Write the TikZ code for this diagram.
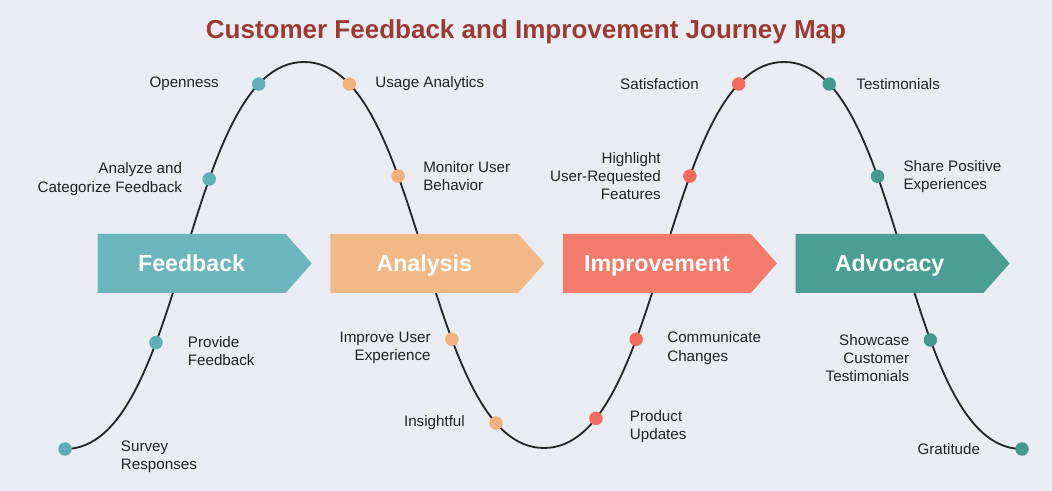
\documentclass[tikz,border=0pt]{standalone}
\usepackage{fontspec}
\setmainfont{Liberation Sans}
\usetikzlibrary{positioning,shapes.symbols}

\definecolor{bgcol}{HTML}{E9EDF3}
\definecolor{titlecol}{HTML}{9A3B33}
\definecolor{txtcol}{HTML}{222222}
\definecolor{fbkcol}{HTML}{6BB5BC}
\definecolor{anacol}{HTML}{F2B885}
\definecolor{impcol}{HTML}{F27B6C}
\definecolor{advcol}{HTML}{4A9E94}
\definecolor{fbkdot}{HTML}{5FAFB8}
\definecolor{anadot}{HTML}{F0B27A}
\definecolor{impdot}{HTML}{EE6B5E}
\definecolor{advdot}{HTML}{44998F}

\begin{document}
\begin{tikzpicture}[
		wave/.style={line width=1.3pt, line cap=round, black!85},
		dot/.style={circle, draw=none, inner sep=0pt,
			minimum size=9.6pt},
		lbl/.style={inner sep=0pt, text=txtcol,
			font=\fontsize{10.8}{12.9}\selectfont},
		stage/.style={signal, signal to=east, signal from=nowhere,
			signal pointer angle=97, inner sep=0pt,
			minimum width=5.35cm, minimum height=1.475cm,
			text height=11.5pt, text depth=0pt,
			text=white, font=\fontsize{16.5}{18}\selectfont\bfseries},
		]
		\fill[bgcol] (0,0) rectangle (26.3,12.275);
		\useasboundingbox (0,0) rectangle (26.3,12.275);
		
		% titolo
		\node[text=titlecol, font=\fontsize{18.5}{22}\selectfont\bfseries]
		(title) at (13.15,11.47) {Customer Feedback and Improvement Journey Map};
		
		% creste e valli dell'onda
		\coordinate (c0) at (1.625,1.05);
		\coordinate (c1) at (7.6,10.725);
		\coordinate (c2) at (13.6,1.075);
		\coordinate (c3) at (19.6,10.725);
		\coordinate (c4) at (25.55,1.05);
		
		% onda con i punti
		\draw[wave] (c0) .. controls +(3,0) and +(-3,0) .. (c1)
		node[dot, fill=fbkdot, pos=0]     (d01) {}
		node[dot, fill=fbkdot, pos=0.345] (d02) {}
		node[dot, fill=fbkdot, pos=0.635] (d03) {}
		node[dot, fill=fbkdot, pos=0.855] (d04) {}
		.. controls +(3,0) and +(-3,0) .. (c2)
		node[dot, fill=anadot, pos=0.145] (d05) {}
		node[dot, fill=anadot, pos=0.36]  (d06) {}
		node[dot, fill=anadot, pos=0.65]  (d07) {}
		node[dot, fill=anadot, pos=0.845] (d08) {}
		.. controls +(3,0) and +(-3,0) .. (c3)
		node[dot, fill=impdot, pos=0.17]  (d09) {}
		node[dot, fill=impdot, pos=0.35]  (d10) {}
		node[dot, fill=impdot, pos=0.64]  (d11) {}
		node[dot, fill=impdot, pos=0.855] (d12) {}
		.. controls +(3,0) and +(-3,0) .. (c4)
		node[dot, fill=advdot, pos=0.145] (d13) {}
		node[dot, fill=advdot, pos=0.36]  (d14) {}
		node[dot, fill=advdot, pos=0.65]  (d15) {}
		node[dot, fill=advdot, pos=1]     (d16) {};
		
		% fasi
		\node[stage, fill=fbkcol] (feedback) at (4.79,5.69) {Feedback};
		\node[stage, fill=anacol, right=0.45cm of feedback] (analysis) {Analysis};
		\node[stage, fill=impcol, right=0.45cm of analysis] (improvement) {Improvement};
		\node[stage, fill=advcol, right=0.45cm of improvement] (advocacy) {Advocacy};
		
		% etichette
		\node[lbl, right=1.2cm of d01, yshift=-0.2cm, align=left] (l01) {Survey\\Responses};
		\node[lbl, right=0.6cm of d02, yshift=-0.22cm, align=left] (l02) {Provide\\Feedback};
		\node[lbl, left=0.48cm of d03, align=right] (l03) {Analyze and\\Categorize Feedback};
		\node[lbl, left=0.8cm of d04] (l04) {Openness};
		\node[lbl, right=0.45cm of d05] (l05) {Usage Analytics};
		\node[lbl, right=0.43cm of d06, align=left] (l06) {Monitor User\\Behavior};
		\node[lbl, left=0.33cm of d07, yshift=-0.22cm, align=right] (l07) {Improve User\\Experience};
		\node[lbl, left=0.58cm of d08] (l08) {Insightful};
		\node[lbl, right=0.65cm of d09, yshift=-0.2cm, align=left] (l09) {Product\\Updates};
		\node[lbl, right=0.58cm of d10, yshift=-0.22cm, align=left] (l10) {Communicate\\Changes};
		\node[lbl, left=0.53cm of d11, align=right] (l11) {Highlight\\User-Requested\\Features};
		\node[lbl, left=0.8cm of d12] (l12) {Satisfaction};
		\node[lbl, right=0.48cm of d13] (l13) {Testimonials};
		\node[lbl, right=0.45cm of d14, align=left] (l14) {Share Positive\\Experiences};
		\node[lbl, left=0.33cm of d15, yshift=-0.45cm, align=right] (l15) {Showcase\\Customer\\Testimonials};
		\node[lbl, left=0.85cm of d16] (l16) {Gratitude};
		
	\end{tikzpicture}
\end{document}
